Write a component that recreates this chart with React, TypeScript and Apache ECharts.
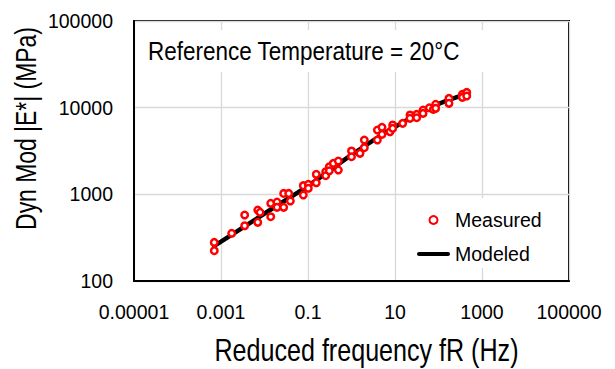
import React, { useEffect, useRef } from "react";
import * as echarts from "echarts";

const xTickLabels = ["0.00001", "0.001", "0.1", "10", "1000", "100000"];
const yTickLabels = ["100", "1000", "10000", "100000"];

const measuredFreq = [
  0.0007, 0.0007, 0.00176, 0.0035, 0.0035, 0.007, 0.0079, 0.007, 0.0139, 0.0139,
  0.0194, 0.0194, 0.0276, 0.036, 0.0276, 0.0393, 0.078, 0.078, 0.1016, 0.1016,
  0.155, 0.155, 0.255, 0.255, 0.309, 0.309, 0.382, 0.498, 0.498, 1.0,
  1.0, 1.567, 1.97, 1.97, 3.93, 5.02, 3.93, 5.02, 7.67, 8.85,
  8.85, 15.0, 22.1, 22.1, 31.5, 31.5, 44.1, 44.1, 61.5, 76.0,
  86.1, 86.1, 174, 174, 353, 445, 353, 445,
];
const measuredMod = [
  279, 224, 355, 577, 434, 659, 620, 475, 787, 552,
  815, 708, 1025, 1025, 708, 838, 1259, 981, 1303, 1173,
  1702, 1361, 1823, 1641, 2080, 1871, 2276, 2420, 1905, 3162,
  2718, 2972, 4230, 3450, 5520, 5930, 4230, 4920, 5270, 6310,
  5770, 6590, 8230, 7530, 8370, 7660, 9380, 8590, 9970, 9550,
  10920, 9820, 12800, 11220, 14220, 15000, 13150, 13620,
];

const modeledFreq = [0.0007, 0.001, 0.01, 0.1, 1, 10, 100, 450];
const modeledMod = [255, 284, 600, 1250, 2850, 6000, 11000, 14400];

const FONT = "'Liberation Sans', Arial, Helvetica, sans-serif";

function labelFor(v: number, labels: string[]): string {
  const e = Math.round(Math.log10(v));
  const found = labels.find((l) => Math.round(Math.log10(parseFloat(l))) === e);
  return found ?? "";
}

export default function App() {
  const ref = useRef<HTMLDivElement>(null);
  useEffect(() => {
    if (!ref.current) return;
    const chart = echarts.init(ref.current, null, { renderer: "svg" });
    chart.setOption({
      animation: false,
      backgroundColor: "#ffffff",
      textStyle: { fontFamily: FONT },
      grid: {
        left: 134,
        right: 46,
        top: 21,
        bottom: 88,
        show: true,
        borderColor: "#000000",
        borderWidth: 2,
        containLabel: false,
      },
      xAxis: {
        type: "log",
        logBase: 10,
        min: 1e-5,
        max: 1e5,
        interval: 2,
        splitNumber: 5,
        axisLine: { show: true, lineStyle: { color: "#000", width: 2 } },
        axisTick: { show: false },
        minorTick: { show: false },
        splitLine: { show: true, lineStyle: { color: "#d9d9d9", width: 1.3 } },
        axisLabel: {
          color: "#000",
          fontFamily: FONT,
          fontSize: 19.5,
          margin: 21,
          formatter: (v: number) => labelFor(v, xTickLabels),
        },
      },
      yAxis: {
        type: "log",
        logBase: 10,
        min: 100,
        max: 100000,
        interval: 1,
        splitNumber: 3,
        axisLine: { show: true, lineStyle: { color: "#000", width: 2 } },
        axisTick: { show: false },
        minorTick: { show: false },
        splitLine: { show: true, lineStyle: { color: "#d9d9d9", width: 1.3 } },
        axisLabel: {
          color: "#000",
          fontFamily: FONT,
          fontSize: 19.5,
          margin: 21,
          formatter: (v: number) => labelFor(v, yTickLabels),
        },
      },
      legend: {
        show: true,
        orient: "vertical",
        left: 417,
        top: 210,
        itemWidth: 33,
        itemHeight: 8,
        itemGap: 14,
        padding: 0,
        textStyle: { color: "#000", fontFamily: FONT, fontSize: 19.5 },
        data: [
          { name: "Measured", icon: "circle" },
          { name: "Modeled", icon: "path://M2,0 L31,0 A2,2 0 0 1 31,4 L2,4 A2,2 0 0 1 2,0 Z" },
        ],
      },
      graphic: [
        {
          type: "rect",
          shape: { x: 138, y: 30, width: 352, height: 42 },
          style: { fill: "#ffffff" },
          z: 1,
          silent: true,
        },
        {
          type: "rect",
          shape: { x: 410, y: 198, width: 150, height: 70 },
          style: { fill: "#ffffff" },
          z: 1,
          silent: true,
        },
        {
          type: "text",
          x: 148,
          y: 51,
          scaleX: 0.865,
          z: 5,
          style: {
            text: "Reference Temperature = 20°C",
            fontFamily: FONT,
            fontSize: 26,
            fill: "#000",
            verticalAlign: "middle",
            align: "left",
          },
        },
        {
          type: "text",
          x: 366.5,
          y: 350,
          scaleX: 0.81,
          z: 5,
          style: {
            text: "Reduced frequency fR (Hz)",
            fontFamily: FONT,
            fontSize: 31,
            fill: "#000",
            verticalAlign: "middle",
            align: "center",
          },
        },
        {
          type: "text",
          x: 26,
          y: 128.5,
          rotation: Math.PI / 2,
          scaleX: 0.79,
          z: 5,
          style: {
            text: "Dyn Mod |E*| (MPa)",
            fontFamily: FONT,
            fontSize: 29,
            fill: "#000",
            verticalAlign: "middle",
            align: "center",
          },
        },
      ],
      series: [
        {
          name: "Modeled",
          type: "line",
          data: modeledFreq.map((f, i) => [f, modeledMod[i]]),
          symbol: "none",
          smooth: 0.3,
          lineStyle: { color: "#000000", width: 4.5, cap: "round" },
          itemStyle: { color: "#000000" },
          z: 3,
        },
        {
          name: "Measured",
          type: "scatter",
          data: measuredFreq.map((f, i) => [f, measuredMod[i]]),
          symbol: "circle",
          symbolSize: 6.5,
          itemStyle: { color: "#ffffff", borderColor: "#ff0000", borderWidth: 2.5, opacity: 1 },
          z: 4,
        },
      ],
    });
    return () => chart.dispose();
  }, []);
  return <div ref={ref} style={{ position: "fixed", left: 0, top: 0, width: 615, height: 369 }} />;
}
